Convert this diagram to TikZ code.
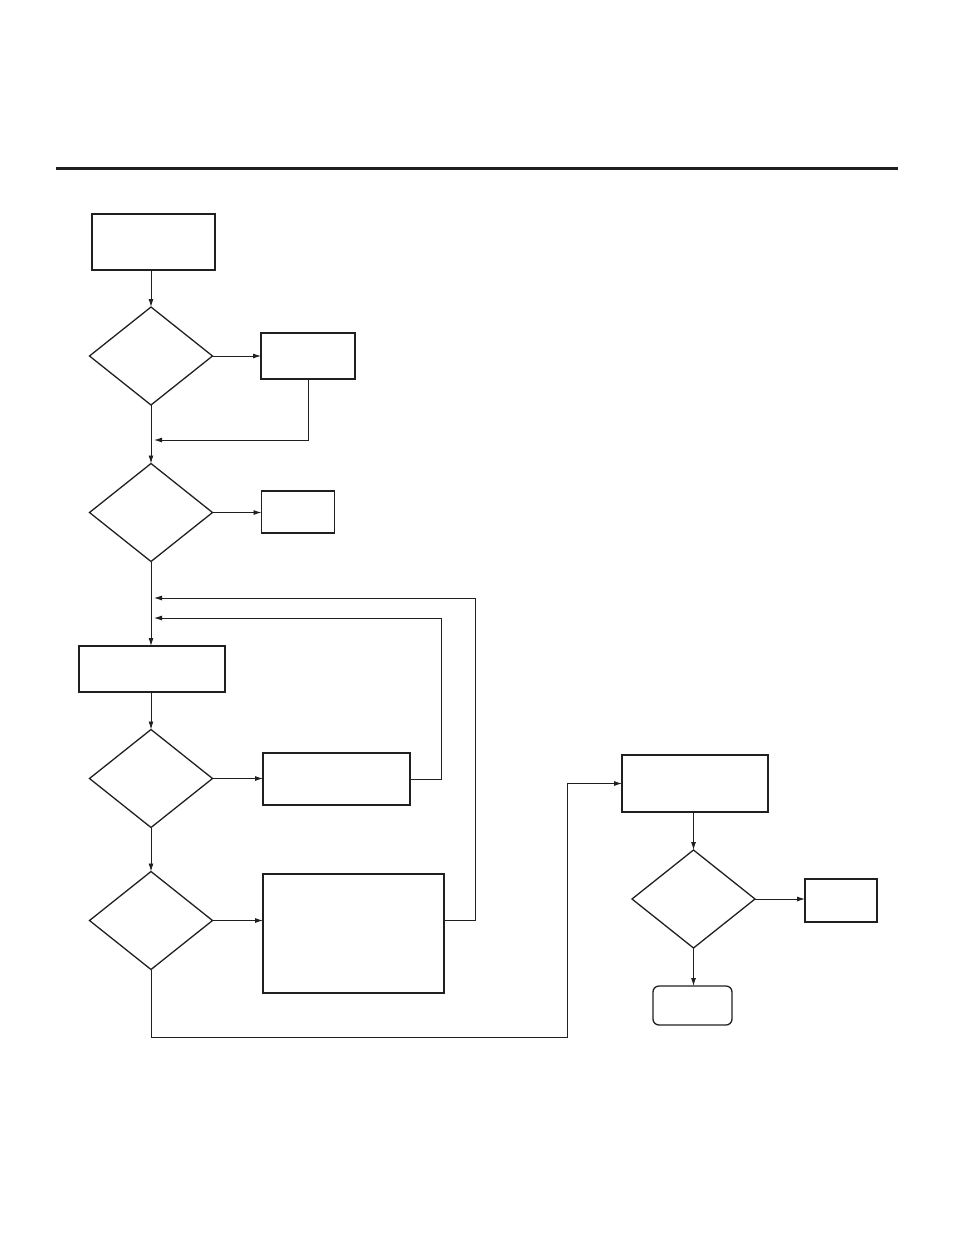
\documentclass[tikz,border=0pt]{standalone}
\usepackage{tikz}
\usetikzlibrary{positioning,arrows.meta,calc,shapes.geometric}
\usepackage{xcolor}
\definecolor{ink}{HTML}{231F20}

\tikzset{
  stepbox/.style={draw=ink, line width=1.6pt, rectangle, inner sep=0pt, outer sep=0pt},
  askbox/.style={draw=ink, line width=1.3pt, diamond, inner sep=0pt, outer sep=0pt,
    minimum width=123pt, minimum height=98pt},
  endbox/.style={stepbox, line width=1.3pt, rounded corners=6pt},
  flow/.style={->, draw=ink, line width=0.9pt}
}

\begin{document}
\begin{tikzpicture}[x=1pt, y=-1pt, >={Latex[length=8pt,width=5pt]}]
\useasboundingbox (0,0) rectangle (954,1235);
\draw[ink, line width=3pt] (56,168) -- (898,168);

% left column
\node[stepbox, minimum width=123pt, minimum height=56pt] (start) at (153.5,242) {};
\node[askbox] (q1) at (151,356) {};
\node[stepbox, minimum width=94pt, minimum height=46pt] (fix1) at (308,356) {};
\node[askbox] (q2) at (151,512.5) {};
\node[stepbox, minimum width=73pt, minimum height=42pt] (stop1) at (298,512) {};
\node[stepbox, minimum width=146pt, minimum height=46pt] (check) at (152,669) {};
\node[askbox] (q3) at (151,778.5) {};
\node[stepbox, minimum width=147pt, minimum height=52pt] (fix2) at (336.5,779) {};
\node[askbox] (q4) at (151,920.5) {};
\node[stepbox, minimum width=181pt, minimum height=119pt] (fix3) at (353.5,933.5) {};

% right column
\node[stepbox, minimum width=146pt, minimum height=57pt] (test) at (695,783.5) {};
\node[askbox] (q5) at (693.5,899) {};
\node[stepbox, minimum width=72pt, minimum height=43pt] (stop2) at (841,900.5) {};
\node[endbox, minimum width=79pt, minimum height=39pt] (done) at (692.5,1005.5) {};

% return points on the trunk
\coordinate (back1) at (154,440);
\coordinate (back2) at (154,598);
\coordinate (back3) at (154,618);
\coordinate (turn) at (567,1037);

\draw[flow] (q1.north |- start.south) -- (q1.north);
\draw[flow] (q1.east) -- (fix1.west);
\draw[flow] (fix1.south) |- (back1);
\draw[flow] (q1.south) -- (q2.north);
\draw[flow] (q2.east) -- (stop1.west |- q2.east);
\draw[flow] (q2.south) -- (check.north -| q2.south);
\draw[flow] (check.south -| q3.north) -- (q3.north);
\draw[flow] (q3.east) -- (fix2.west |- q3.east);
\draw[flow] (fix2.east) -| (441,618) -- (back3);
\draw[flow] (q3.south) -- (q4.north);
\draw[flow] (q4.east) -- (fix3.west |- q4.east);
\draw[flow] (fix3.east |- q4.east) -| (475,598) -- (back2);
\draw[flow] (q4.south) |- (turn) |- (test.west);
\draw[flow] (q5.north |- test.south) -- (q5.north);
\draw[flow] (q5.east) -- (stop2.west |- q5.east);
\draw[flow] (q5.south) -- (done.north -| q5.south);
\end{tikzpicture}
\end{document}
